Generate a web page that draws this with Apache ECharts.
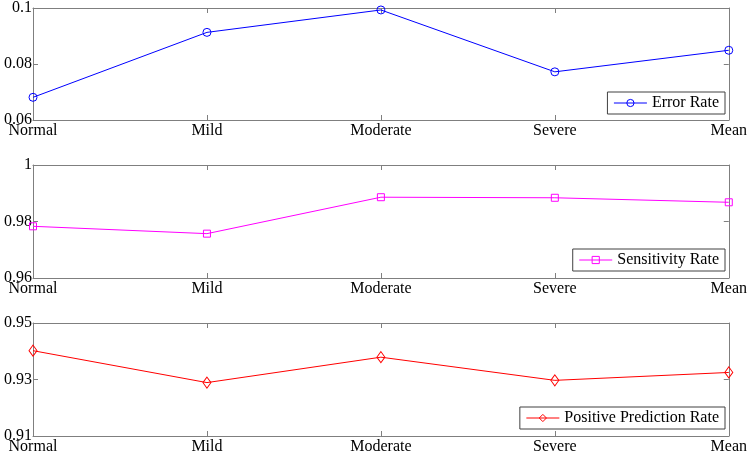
<!DOCTYPE html>
<html><head><meta charset="utf-8">
<script src="https://cdn.jsdelivr.net/npm/echarts@6/dist/echarts.min.js"></script>
<style>html,body{margin:0;padding:0;background:#fff}#c{width:750px;height:456px}</style>
</head><body><div id="c"></div>
<script>
const categories = ['Normal', 'Mild', 'Moderate', 'Severe', 'Mean'];
const errorRate = [0.0681, 0.0913, 0.0993, 0.0772, 0.0849];
const sensitivityRate = [0.9783, 0.9757, 0.9886, 0.9884, 0.9868];
const positivePredictionRate = [0.9402, 0.9289, 0.9379, 0.9297, 0.9325];
const ticks1 = [0.06, 0.08, 0.1];
const ticks2 = [0.96, 0.98, 1];
const ticks3 = [0.91, 0.93, 0.95];

const FONT = 'Liberation Serif';
const AX = '#7f7f7f';
const panels = [
  {name: 'Error Rate', data: errorRate, ticks: ticks1, color: '#0000ff', symbol: 'circle', size: 8, top: 7, legendTop: 92},
  {name: 'Sensitivity Rate', data: sensitivityRate, ticks: ticks2, color: '#ff00ff', symbol: 'rect', size: 7, top: 165, legendTop: 249},
  {name: 'Positive Prediction Rate', data: positivePredictionRate, ticks: ticks3, color: '#ff0000', symbol: 'diamond', size: [8, 11], top: 323, legendTop: 407}
];

const grid = [], xAxis = [], yAxis = [], series = [], legend = [];
panels.forEach((p, i) => {
  grid.push({left: 33, top: p.top, width: 696, height: 113, containLabel: false});
  const tick = {show: true, inside: true, length: 5, lineStyle: {color: AX}};
  xAxis.push({type: 'category', gridIndex: i, data: categories, boundaryGap: false, position: 'bottom',
    axisLine: {lineStyle: {color: AX}}, axisTick: Object.assign({alignWithLabel: true}, tick),
    axisLabel: {color: '#000', fontFamily: FONT, fontSize: 16, margin: 3}, splitLine: {show: false}});
  xAxis.push({type: 'category', gridIndex: i, data: categories, boundaryGap: false, position: 'top',
    axisLine: {lineStyle: {color: AX}}, axisTick: tick, axisLabel: {show: false}, splitLine: {show: false}});
  const mn = p.ticks[0], mx = p.ticks[p.ticks.length - 1];
  yAxis.push({type: 'value', gridIndex: i, min: mn, max: mx, position: 'left',
    axisLine: {show: true, lineStyle: {color: AX}},
    axisTick: Object.assign({customValues: p.ticks}, tick),
    axisLabel: {customValues: p.ticks, color: '#000', fontFamily: FONT, fontSize: 16, margin: 1,
      formatter: v => String(+v.toFixed(4))},
    splitLine: {show: false}});
  yAxis.push({type: 'value', gridIndex: i, min: mn, max: mx, position: 'right',
    axisLine: {show: true, lineStyle: {color: AX}},
    axisTick: Object.assign({customValues: p.ticks}, tick),
    axisLabel: {show: false, customValues: p.ticks}, splitLine: {show: false}});
  series.push({name: p.name, type: 'line', xAxisIndex: i * 2, yAxisIndex: i * 2, data: p.data,
    symbol: p.symbol, symbolSize: p.size, showAllSymbol: true, clip: false,
    lineStyle: {color: p.color, width: 1},
    itemStyle: {color: 'rgba(255,255,255,0)', borderColor: p.color, borderWidth: 1},
    emphasis: {disabled: true}, animation: false});
  legend.push({data: [p.name], right: 25, top: p.legendTop, orient: 'horizontal',
    backgroundColor: '#fff', borderColor: '#404040', borderWidth: 1, padding: [3, 6, 3, 6],
    itemWidth: 33, itemHeight: 9, itemGap: 5,
    lineStyle: {width: 1, color: p.color},
    itemStyle: {color: 'rgba(255,255,255,0)', borderColor: p.color, borderWidth: 1},
    textStyle: {fontFamily: FONT, fontSize: 16, color: '#000'}, selectedMode: false});
});

const chart = echarts.init(document.getElementById('c'));
chart.setOption({animation: false, backgroundColor: '#fff', grid, xAxis, yAxis, series, legend});
</script></body></html>
